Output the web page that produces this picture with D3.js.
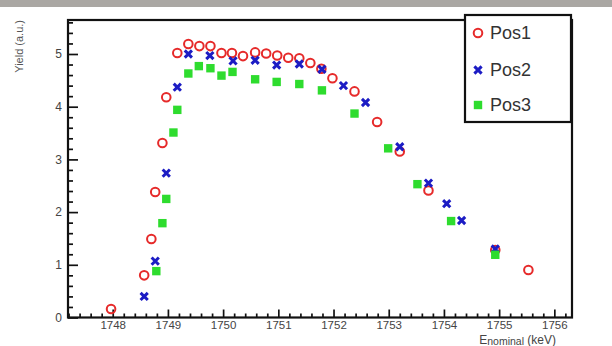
<!DOCTYPE html>
<html><head><meta charset="utf-8">
<script src="https://cdn.jsdelivr.net/npm/d3@7"></script>
<style>
html,body{margin:0;padding:0;background:#fff}
svg{display:block;font-family:"Liberation Sans",Arial,Helvetica,sans-serif}
</style>
</head><body>
<svg id="chart" width="612" height="346"></svg>
<script>
// ---- data ----
const pos1E = [1747.97,1748.57,1748.70,1748.77,1748.90,1748.97,1749.17,1749.37,1749.57,1749.77,1749.97,1750.16,1750.36,1750.58,1750.78,1750.98,1751.18,1751.38,1751.58,1751.78,1751.98,1752.38,1752.79,1753.20,1753.72,1754.93,1755.53];
const pos1Y = [0.16,0.80,1.49,2.38,3.31,4.18,5.02,5.19,5.15,5.15,5.02,5.02,4.96,5.03,5.01,4.97,4.93,4.92,4.83,4.72,4.54,4.29,3.71,3.15,2.41,1.28,0.90];

const pos2E = [1748.57,1748.77,1748.97,1749.17,1749.37,1749.76,1750.18,1750.58,1750.97,1751.38,1751.79,1752.18,1752.58,1753.20,1753.72,1754.05,1754.32,1754.93];
const pos2Y = [0.40,1.07,2.74,4.37,5.00,4.97,4.87,4.88,4.79,4.81,4.71,4.40,4.08,3.24,2.55,2.16,1.84,1.30];

const pos3E = [1748.79,1748.90,1748.97,1749.10,1749.17,1749.37,1749.56,1749.77,1749.97,1750.17,1750.58,1750.97,1751.38,1751.79,1752.38,1752.99,1753.52,1754.13,1754.93];
const pos3Y = [0.88,1.79,2.25,3.51,3.94,4.63,4.77,4.73,4.59,4.66,4.52,4.47,4.43,4.31,3.87,3.21,2.53,1.83,1.19];

const seriesNames = ["Pos1","Pos2","Pos3"];
const xTickValues = [1748,1749,1750,1751,1752,1753,1754,1755,1756];
const yTickValues = [0,1,2,3,4,5];
const xTitle = "E";
const xTitleSub = "nominal";
const xTitleUnit = " (keV)";
const yTitle = "Yield (a.u.)";

// ---- layout ----
const svg = d3.select("#chart");
const L = 68, R = 572, T = 20, B = 317.5;
const x = d3.scaleLinear().domain([1747.19, 1756.32]).range([L, R]);
const y = d3.scaleLinear().domain([0, 5.645]).range([B, T]);

const RED = "#e62a2a", BLUE = "#1c1cc4", GREEN = "#2edc2e";

// top gray strip
svg.append("rect").attr("x",0).attr("y",0).attr("width",612).attr("height",7).attr("fill","#aaa7a3");

// minor ticks
const xMinor = d3.range(1747.2, 1756.32, 0.2).filter(v => Math.abs(v - Math.round(v)) > 0.01);
const yMinor = d3.range(0.2, 5.645, 0.2).filter(v => Math.abs(v - Math.round(v)) > 0.01);

const gxMinor = svg.append("g").attr("transform",`translate(0,${B})`)
  .call(d3.axisBottom(x).tickValues(xMinor).tickSizeInner(-4).tickSizeOuter(0).tickFormat(""));
const gyMinor = svg.append("g").attr("transform",`translate(${L},0)`)
  .call(d3.axisLeft(y).tickValues(yMinor).tickSizeInner(-5).tickSizeOuter(0).tickFormat(""));

const gx = svg.append("g").attr("transform",`translate(0,${B})`)
  .call(d3.axisBottom(x).tickValues(xTickValues).tickSizeInner(-8).tickSizeOuter(0).tickPadding(3).tickFormat(d3.format("d")));
const gy = svg.append("g").attr("transform",`translate(${L},0)`)
  .call(d3.axisLeft(y).tickValues(yTickValues).tickSizeInner(-10).tickSizeOuter(0).tickPadding(6).tickFormat(d3.format("d")));

[gxMinor,gyMinor,gx,gy].forEach(g=>{
  g.select(".domain").remove();
  g.selectAll(".tick line").attr("stroke","#111").attr("stroke-width",1.7);
});
gx.selectAll("text").attr("font-size",11.5).attr("fill","#444");
gy.selectAll("text").attr("font-size",12).attr("fill","#444");

// frame
svg.append("rect").attr("x",L).attr("y",T).attr("width",R-L).attr("height",B-T)
  .attr("fill","none").attr("stroke","#111").attr("stroke-width",2.2);

// titles
const xt = svg.append("text").attr("x",556).attr("y",344).attr("text-anchor","end")
  .attr("font-size",12).attr("fill","#444");
xt.append("tspan").text(xTitle);
xt.append("tspan").attr("font-size",10.5).attr("dy",1).text(xTitleSub);
xt.append("tspan").attr("dy",-1).text(xTitleUnit);

svg.append("text").attr("transform",`translate(23,${T}) rotate(-90)`)
  .attr("text-anchor","end").attr("font-size",11).attr("fill","#555").text(yTitle);

// markers
const drawers = [
  (g, d) => g.append("circle").attr("cx",d[0]).attr("cy",d[1]).attr("r",4.3)
              .attr("fill","none").attr("stroke",RED).attr("stroke-width",2),
  (g, d) => g.append("path").attr("d",`M${d[0]-3.6},${d[1]-3.6}L${d[0]+3.6},${d[1]+3.6}M${d[0]-3.6},${d[1]+3.6}L${d[0]+3.6},${d[1]-3.6}`)
              .attr("stroke",BLUE).attr("stroke-width",3).attr("fill","none"),
  (g, d) => g.append("rect").attr("x",d[0]-4.2).attr("y",d[1]-4.2).attr("width",8.4).attr("height",8.4).attr("fill",GREEN)
];
const series = [[pos1E,pos1Y],[pos2E,pos2Y],[pos3E,pos3Y]];
series.forEach((s,i)=>{
  const g = svg.append("g").attr("class","series-"+seriesNames[i]);
  s[0].forEach((e,k)=> drawers[i](g,[x(e), y(s[1][k])]));
});

// legend
const lg = svg.append("g");
lg.append("rect").attr("x",465).attr("y",15).attr("width",106).attr("height",107)
  .attr("fill","#fff").attr("stroke","#111").attr("stroke-width",2.2);
const rowY = [33, 70, 105];
seriesNames.forEach((n,i)=>{
  drawers[i](lg,[478,rowY[i]]);
  lg.append("text").attr("x",490).attr("y",rowY[i]).attr("dy","0.36em")
    .attr("font-size",18).attr("fill","#333").text(n);
});
</script>
</body></html>
